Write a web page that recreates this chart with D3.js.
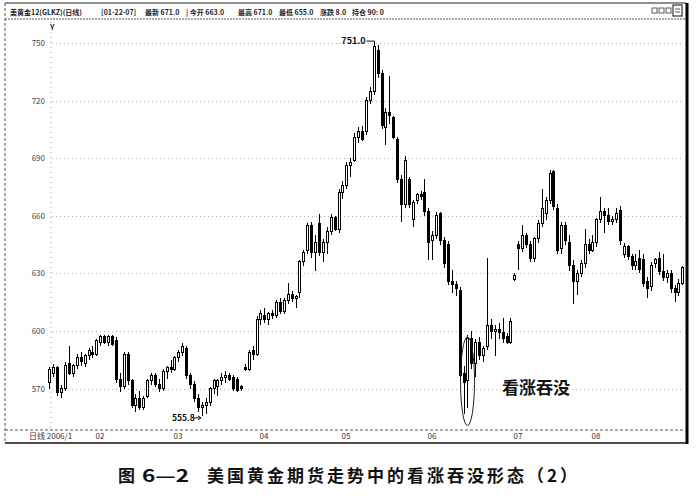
<!DOCTYPE html>
<html><head><meta charset="utf-8">
<script src="https://cdn.jsdelivr.net/npm/d3@7"></script>
<style>body{margin:0;background:#fff}svg{display:block}</style>
</head><body><svg id="c" width="699" height="499"></svg>
<script>
// ---- data ----
const open  = [573,578,581,568,570,583,578,582,586,583,587,589,588,594,597,594,597,595,575,571,588,574,561,565,560,566,574,577,572,570,579,581,580,586,589,591,577,572,565,560,561,563,570,571,574,576,577,576,575,571,581,580,590,588,606,608,606,609,608,615,610,616,619,617,620,636,642,655,641,656,641,646,652,659,653,672,676,686,689,701,704,704,720,725,746,734,706,714,711,700,679,666,679,658,668,671,672,662,647,650,661,647,645,626,624,621,578,574,596,583,594,587,592,603,600,601,599,597,594,627,645,643,650,645,638,648,656,661,668,683,664,643,655,646,634,626,630,635,645,642,646,658,662,660,657,658,663,640,644,639,634,638,637,626,623,635,638,631,628,630,622,620,625];
const high  = [581,583,582,572,584,592,583,588,589,588,591,592,596,598,598,598,598,597,578,589,589,575,567,569,566,575,578,578,575,580,582,585,587,590,594,592,578,574,567,563,565,571,575,575,578,579,578,577,576,572,583,590,592,608,611,612,610,611,616,617,617,625,621,619,637,642,656,657,650,661,648,654,661,660,674,678,688,690,703,706,707,722,727,751,749,736,716,733,712,701,681,691,680,668,672,673,679,664,652,662,662,649,647,632,626,623,582,598,600,596,597,592,638,606,603,604,607,599,607,630,647,655,651,647,649,658,674,670,684,684,666,657,657,650,637,632,637,653,648,650,659,670,664,664,660,664,665,646,645,640,640,642,640,628,636,638,641,640,632,632,624,627,634];
const low   = [570,576,566,565,569,577,576,580,582,581,585,586,587,592,593,592,592,573,568,570,572,560,558,559,559,565,572,571,568,569,575,578,579,584,587,575,570,563,558,555.8,557,561,567,566,572,573,574,569,568,569,579,579,585,587,603,604,603,606,607,609,609,614,615,612,617,634,640,638,631,639,636,640,650,652,651,669,674,680,688,698,699,702,718,723,732,705,697,708,700,677,657,664,664,654,666,668,660,637,637,648,645,633,624,620,618,575,557,560,580,576,585,584,590,596,587,596,594,593,593,626,632,641,643,636,636,646,654,658,666,663,640,640,645,631,614,619,628,633,640,641,644,656,651,655,655,656,645,638,637,632,632,630,623,617,621,633,629,626,625,620,615,618,624];
const close = [580,581,568,570,582,578,582,586,584,587,590,588,595,597,594,597,593,575,571,588,574,561,565,560,565,574,577,572,570,579,581,580,586,589,592,577,572,565,560,561,563,570,574,574,576,577,575,570,569,570,580,589,588,606,609,606,609,608,615,610,616,619,617,618,636,641,655,641,646,641,646,652,659,653,672,676,686,688,701,704,700,720,725,748,734,707,714,712,701,679,666,689,666,667,671,670,662,646,650,660,647,635,626,624,622,577,573,596,583,594,587,591,603,600,601,599,596,594,605,629,643,650,645,638,648,656,664,668,682,665,642,655,647,634,626,630,635,645,642,646,658,662,660,657,658,661,647,644,639,634,636,632,625,622,634,637,631,628,630,622,620,625,633];
const yTicks = [570,600,630,660,690,720,750];
const monthLabels = ["02","03","04","05","06","07","08"];
const monthIdx = [13,33,55,76,98,120,140];
const firstLabel = "日线 2006/1";
const peak = {i: 83, v: 751.0, label: "751.0"};
const trough = {i: 39, v: 555.8, label: "555.8"};
const pattern = {i0: 106, i1: 107, label: "看涨吞没"};
const headerParts = [
  {t:"美黄金12(GLKZ)(日线)", x:10},
  {t:"[01-22-07]", x:101},
  {t:"最新 671.0", x:145},
  {t:"| 今开 663.0", x:186},
  {t:"最高 671.0", x:238},
  {t:"最低 655.0", x:279},
  {t:"涨跌 8.0", x:320},
  {t:"持仓 90: 0", x:352}
];
const caption1 = "图 6—2";
const caption2 = "美国黄金期货走势中的看涨吞没形态（2）";

// ---- drawing ----
const svg = d3.select("#c");
const n = open.length;
const x = d3.scaleBand().domain(d3.range(n)).range([48, 683.8]).paddingInner(0.25);
const y = d3.scaleLinear().domain([570, 750]).range([388.6, 43]);
const font = "'Noto Sans CJK SC','DejaVu Sans',sans-serif";

svg.append("rect").attr("width",699).attr("height",499).attr("fill","#fff");

// frame
const F = {l:5, r:686, t:3, hb:19, b:443, ax:430};
svg.append("line").attr("x1",F.l).attr("x2",F.r).attr("y1",F.t).attr("y2",F.t).attr("stroke","#222").attr("stroke-width",1.2);
svg.append("line").attr("x1",F.l).attr("x2",F.r).attr("y1",F.hb).attr("y2",F.hb).attr("stroke","#555").attr("stroke-dasharray","2,1");
svg.append("line").attr("x1",F.l).attr("x2",F.l).attr("y1",F.t).attr("y2",F.b).attr("stroke","#555").attr("stroke-dasharray","3,2");
svg.append("line").attr("x1",F.r+1).attr("x2",F.r+1).attr("y1",F.t).attr("y2",F.b+1).attr("stroke","#000").attr("stroke-width",3);
svg.append("line").attr("x1",F.l).attr("x2",F.r).attr("y1",F.ax).attr("y2",F.ax).attr("stroke","#555").attr("stroke-dasharray","3,2");
svg.append("line").attr("x1",F.l).attr("x2",F.r).attr("y1",F.b).attr("y2",F.b).attr("stroke","#111").attr("stroke-width",1.5);

// header
svg.append("g").selectAll("text").data(headerParts).join("text")
  .attr("x",d=>d.x).attr("y",15).attr("font-family",font).attr("font-size",7).attr("font-weight",700)
  .attr("fill","#222").text(d=>d.t);
// header icons
const ic = svg.append("g").attr("stroke","#333").attr("fill","none").attr("stroke-width",0.8);
[652,659,666].forEach(px=>ic.append("rect").attr("x",px).attr("y",8).attr("width",5).attr("height",5));
ic.append("rect").attr("x",673).attr("y",5).attr("width",9).attr("height",11).attr("stroke-width",1.2);
ic.append("line").attr("x1",675).attr("x2",680).attr("y1",9).attr("y2",9);
ic.append("line").attr("x1",675).attr("x2",680).attr("y1",12).attr("y2",12);

// y axis dotted line and marker
svg.append("line").attr("x1",51).attr("x2",51).attr("y1",22).attr("y2",F.ax).attr("stroke","#999").attr("stroke-dasharray","1,4");
svg.append("text").attr("x",50).attr("y",30).attr("font-family",font).attr("font-size",8).attr("font-weight",700).attr("fill","#333").text("Y");

// grid
svg.append("g").selectAll("line").data(yTicks).join("line")
  .attr("x1",52).attr("x2",683).attr("y1",d=>Math.round(y(d))+0.5).attr("y2",d=>Math.round(y(d))+0.5)
  .attr("stroke","#999").attr("stroke-width",0.8).attr("stroke-dasharray","1,3");
svg.append("g").selectAll("text").data(yTicks).join("text")
  .attr("x",45).attr("y",d=>y(d)+3).attr("text-anchor","end").attr("font-family",font)
  .attr("font-size",8).attr("fill","#444").text(d=>d);

// candles
const data = d3.range(n).map(i=>({i,o:open[i],h:high[i],l:low[i],c:close[i]}));
const bw = 3;
const cx = i => Math.round(x(i) + x.bandwidth()/2);
const cg = svg.append("g").attr("shape-rendering","crispEdges");
cg.selectAll("line").data(data).join("line")
  .attr("x1",d=>cx(d.i)+0.5).attr("x2",d=>cx(d.i)+0.5)
  .attr("y1",d=>y(d.h)).attr("y2",d=>y(d.l)).attr("stroke","#000").attr("stroke-width",1);
cg.selectAll("rect").data(data).join("rect")
  .attr("x",d=>cx(d.i)-1+0.5).attr("width",bw-1)
  .attr("y",d=>y(Math.max(d.o,d.c))).attr("height",d=>Math.max(1,Math.abs(y(d.o)-y(d.c))))
  .attr("fill",d=>d.c>=d.o?"#fff":"#000").attr("stroke","#000").attr("stroke-width",1);

// peak annotation
const px = cx(peak.i)+0.5, py = y(peak.v);
svg.append("text").attr("x",px-9).attr("y",py+3).attr("text-anchor","end").attr("font-family",font)
  .attr("font-size",9).attr("font-weight",700).attr("fill","#111").text(peak.label);
svg.append("path").attr("d",`M${px-8},${py} H${px} V${py+3}`).attr("fill","none").attr("stroke","#111");

// trough annotation
const tx = cx(trough.i), ty = y(trough.v);
svg.append("text").attr("x",tx-30).attr("y",ty+5).attr("font-family",font)
  .attr("font-size",8.5).attr("font-weight",700).attr("fill","#111").text(trough.label);
svg.append("path").attr("d",`M${tx-9},${ty+2} H${tx-1} M${tx-4},${ty} L${tx-1},${ty+2} L${tx-4},${ty+4}`)
  .attr("fill","none").attr("stroke","#111");

// pattern ellipse and label
const ex = (cx(pattern.i0)+cx(pattern.i1))/2 + 2;
const eTop = y(Math.max(high[pattern.i0],high[pattern.i1])) + 2;
const eBot = y(Math.min(low[pattern.i0],low[pattern.i1])) + 12;
svg.append("ellipse").attr("cx",ex).attr("cy",(eTop+eBot)/2).attr("rx",7).attr("ry",(eBot-eTop)/2)
  .attr("fill","none").attr("stroke","#222").attr("stroke-width",1);
svg.append("text").attr("x",502).attr("y",394).attr("font-family",font).attr("font-size",17)
  .attr("font-weight",700).attr("fill","#111").text(pattern.label);

// x axis labels
svg.append("text").attr("x",29).attr("y",439).attr("font-family",font).attr("font-size",8).attr("fill","#333").text(firstLabel);
svg.append("g").selectAll("text").data(monthLabels).join("text")
  .attr("x",(d,k)=>cx(monthIdx[k])).attr("y",439).attr("text-anchor","middle").attr("font-family",font)
  .attr("font-size",8).attr("fill","#333").text(d=>d);

// caption
svg.append("text").attr("x",118).attr("y",482).attr("font-family",font).attr("font-size",17).attr("font-weight",700)
  .attr("fill","#111").text(caption1.slice(0,1));
svg.append("text").attr("x",142).attr("y",482).attr("font-family",font).attr("font-size",17).attr("font-weight",700)
  .attr("fill","#111").attr("textLength",47).attr("lengthAdjust","spacingAndGlyphs").text(caption1.slice(2));
svg.append("text").attr("x",207).attr("y",482).attr("font-family",font).attr("font-size",17).attr("font-weight",700)
  .attr("fill","#111").attr("textLength",370).attr("lengthAdjust","spacing").text(caption2);
</script></body></html>
